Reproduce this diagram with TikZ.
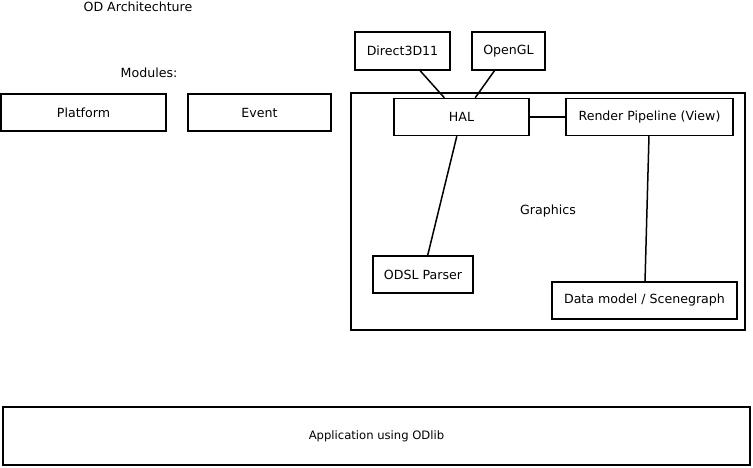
\documentclass[tikz,border=0pt]{standalone}
\usepackage{fontspec}
\setmainfont{DejaVu Sans}
\begin{document}
\begin{tikzpicture}[x=1pt, y=-1pt, line width=1.5pt,
  box/.style={draw, inner sep=0pt, font=\fontsize{12.6}{14}\selectfont},
  lbl/.style={inner sep=0pt, font=\fontsize{12.6}{14}\selectfont}]
\useasboundingbox (0,0) rectangle (753,468);
\node[lbl] (title) at (138,7) {OD Architechture};
\node[lbl] (modules) at (149,73) {Modules:};
% modules
\node[box, minimum width=165, minimum height=37] (platform) at (83.5,112.5) {Platform};
\node[box, minimum width=143, minimum height=37] (event) at (259.5,112.5) {Event};
\node[box, minimum width=394, minimum height=237] (graphics) at (548,211.5) {};
\node[lbl] (graphicslbl) at (548,211) {Graphics};
% graphics parts
\node[box, minimum width=95, minimum height=38] (d3d) at (402.5,51) {Direct3D11};
\node[box, minimum width=73, minimum height=38] (ogl) at (508.5,51) {OpenGL};
\node[box, minimum width=135, minimum height=37] (hal) at (461.5,117) {HAL};
\node[box, minimum width=167, minimum height=37] (render) at (649.5,117) {Render Pipeline (View)};
\node[box, minimum width=100, minimum height=37] (odsl) at (423,274.5) {ODSL Parser};
\node[box, minimum width=185, minimum height=37] (scene) at (644.5,300.5) {Data model / Scenegraph};
\draw (d3d)--(hal);
\draw (ogl)--(hal);
\draw (hal)--(render);
\draw (hal)--(odsl);
\draw (render)--(scene);
% application
\node[box, minimum width=747, minimum height=58, font=\fontsize{11.6}{14}\selectfont] (app) at (376.5,436) {Application using ODlib};
\end{tikzpicture}
\end{document}
